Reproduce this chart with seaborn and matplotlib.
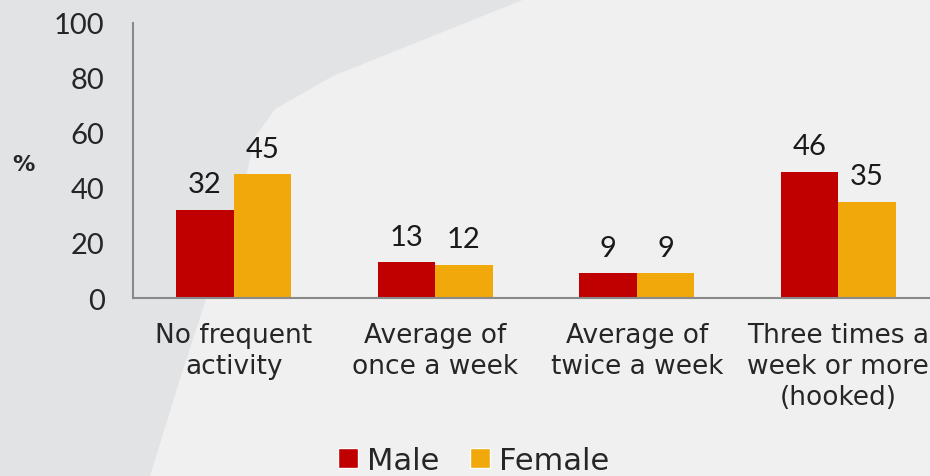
import numpy as np
import pandas as pd
import matplotlib
matplotlib.use("Agg")
import matplotlib.pyplot as plt
from matplotlib.patches import Polygon, Patch
import seaborn as sns

# data
categories = ['No frequent\nactivity', 'Average of\nonce a week',
              'Average of\ntwice a week', 'Three times a\nweek or more\n(hooked)']
male = [32, 13, 9, 46]
female = [45, 12, 9, 35]
sexes = ['Male', 'Female']
yticks = [0, 20, 40, 60, 80, 100]

colors = ['#C00000', '#F0A80A']
gray = '#898989'

df = pd.DataFrame({'category': categories * 2,
                   'sex': ['Male'] * 4 + ['Female'] * 4,
                   'value': male + female})

sns.set_style('white')
plt.rcParams['font.family'] = ['DejaVu Sans']

W, H = 930, 477
fig = plt.figure(figsize=(W / 100, H / 100), dpi=100, facecolor='#F0F0F0')

# darker background shape in the upper left
pts = [(0, 0), (525, 0), (333, 77), (275, 110), (255, 138), (247, 173),
       (207, 297), (180, 380), (150, 477), (0, 477)]
poly = Polygon([(x / W, 1 - y / H) for x, y in pts], closed=True,
               transform=fig.transFigure, facecolor='#E2E3E5', edgecolor='none', zorder=-5)
fig.patches.append(poly)

ax = fig.add_axes([133 / W, 178 / H, (939 - 133) / W, 275 / H])
ax.set_facecolor('none')
ax.set_zorder(2)

sns.barplot(data=df, x='category', y='value', hue='sex', palette=colors,
            width=0.57, ax=ax, saturation=1, legend=False, linewidth=0)

for cont in ax.containers:
    ax.bar_label(cont, fmt='%d', padding=9, fontsize=21, color='#1a1a1a',
                 family='Lato')

ax.set_ylim(0, 100)
ax.set_xlim(-0.5, 3.5)
ax.set_yticks(yticks)
ax.set_yticklabels(yticks, family='Lato')
ax.tick_params(axis='y', labelsize=21, length=7.5, width=1.5, color=gray, pad=13)
ax.set_xticks(range(4))
ax.set_xticklabels(categories, fontsize=19, linespacing=1.25)
ax.tick_params(axis='x', which='major', length=0, pad=17)
ax.set_xticks([-0.5, 0.5, 1.5, 2.5], minor=True)
ax.tick_params(axis='x', which='minor', length=6, width=1.5, color=gray)

for s in ['top', 'right']:
    ax.spines[s].set_visible(False)
for s in ['left', 'bottom']:
    ax.spines[s].set_color(gray)
    ax.spines[s].set_linewidth(1.5)

ax.set_xlabel('')
ax.set_ylabel('')
fig.text(23 / W, 1 - 165 / H, '%', fontsize=16, fontweight='bold', ha='center', va='center')

handles = [Patch(facecolor=c, label=s) for c, s in zip(colors, sexes)]
fig.legend(handles=handles, loc='lower center', bbox_to_anchor=(0.509, -0.055), ncol=2,
           frameon=False, fontsize=22, handlelength=0.65, handleheight=0.65,
           handletextpad=0.3, columnspacing=1.0)

fig.savefig('out.png', dpi=100, facecolor=fig.get_facecolor())
